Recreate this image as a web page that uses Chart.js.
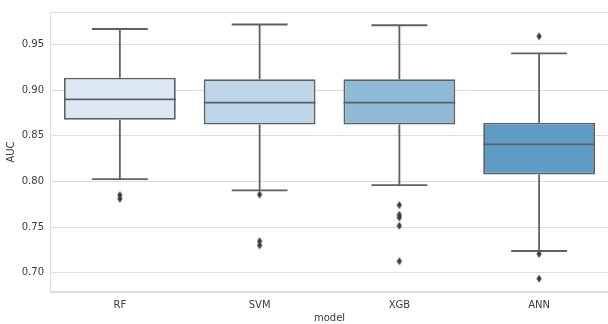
<!DOCTYPE html>
<html>
<head>
<meta charset="utf-8">
<script src="https://cdn.jsdelivr.net/npm/chart.js@4.4.1/dist/chart.umd.min.js"></script>
<style>
  html, body { margin: 0; padding: 0; background: #fff; overflow: hidden; }
  #wrap { width: 608px; height: 324px; overflow: hidden; }
</style>
</head>
<body>
<div id="wrap"><canvas id="boxChart" width="614" height="324"></canvas></div>
<script>
// Box plot data
const models = ['RF', 'SVM', 'XGB', 'ANN'];
const whiskerLow = [0.8025, 0.7903, 0.796, 0.7238];
const quartile1 = [0.8675, 0.8623, 0.8623, 0.8075];
const medians = [0.890, 0.8863, 0.8863, 0.8406];
const quartile3 = [0.9137, 0.9119, 0.9119, 0.8644];
const whiskerHigh = [0.967, 0.9719, 0.9711, 0.9403];
const outlierModel = ['RF', 'RF', 'SVM', 'SVM', 'SVM', 'XGB', 'XGB', 'XGB', 'XGB', 'XGB', 'ANN', 'ANN', 'ANN'];
const outlierValue = [0.785, 0.781, 0.7856, 0.7346, 0.730, 0.7741, 0.7635, 0.7605, 0.7514, 0.7126, 0.959, 0.7206, 0.6935];
const yTicks = [0.70, 0.75, 0.80, 0.85, 0.90, 0.95];
const boxColors = ['#dce8f4', '#bdd5e9', '#8fbad6', '#5e9bc5'];

const lineGray = '#606060';
const textColor = '#3a3a3a';
const gridColor = '#dddddd';

// thin diamond marker like matplotlib's 'd'
function makeDiamond() {
  const c = document.createElement('canvas');
  c.width = 6; c.height = 9;
  const ctx = c.getContext('2d');
  ctx.fillStyle = '#3d3d3d';
  ctx.beginPath();
  ctx.moveTo(3, 0.5);
  ctx.lineTo(5.6, 4.5);
  ctx.lineTo(3, 8.5);
  ctx.lineTo(0.4, 4.5);
  ctx.closePath();
  ctx.fill();
  return c;
}

// whiskers, caps and medians drawn right after the boxes
const boxExtras = {
  id: 'boxExtras',
  afterDatasetDraw(chart, args) {
    if (args.index !== 0) return;
    const ctx = chart.ctx;
    const x = chart.scales.x, y = chart.scales.y;
    const bars = args.meta.data;
    ctx.save();
    ctx.strokeStyle = lineGray;
    ctx.lineWidth = 1.8;
    models.forEach((m, i) => {
      const cx = x.getPixelForValue(i);
      const half = bars[i].width / 2;
      const cap = half / 2;
      ctx.beginPath();
      // whiskers
      ctx.moveTo(cx, y.getPixelForValue(quartile3[i]));
      ctx.lineTo(cx, y.getPixelForValue(whiskerHigh[i]));
      ctx.moveTo(cx, y.getPixelForValue(quartile1[i]));
      ctx.lineTo(cx, y.getPixelForValue(whiskerLow[i]));
      // caps
      ctx.moveTo(cx - cap, y.getPixelForValue(whiskerHigh[i]));
      ctx.lineTo(cx + cap, y.getPixelForValue(whiskerHigh[i]));
      ctx.moveTo(cx - cap, y.getPixelForValue(whiskerLow[i]));
      ctx.lineTo(cx + cap, y.getPixelForValue(whiskerLow[i]));
      // median
      ctx.moveTo(cx - half, y.getPixelForValue(medians[i]));
      ctx.lineTo(cx + half, y.getPixelForValue(medians[i]));
      ctx.stroke();
    });
    ctx.restore();
  },
  // frame around the plot (top spine included)
  beforeDatasetsDraw(chart) {
    const a = chart.chartArea;
    const ctx = chart.ctx;
    ctx.save();
    ctx.strokeStyle = gridColor;
    ctx.lineWidth = 1;
    ctx.strokeRect(a.left + 0.5, a.top + 0.5, a.right - a.left - 1, a.bottom - a.top - 1);
    ctx.restore();
  }
};

new Chart(document.getElementById('boxChart'), {
  type: 'bar',
  data: {
    labels: models,
    datasets: [
      {
        label: 'box',
        data: models.map((m, i) => [quartile1[i], quartile3[i]]),
        backgroundColor: boxColors,
        borderColor: lineGray,
        borderWidth: 1.8,
        borderSkipped: false,
        barPercentage: 0.8,
        categoryPercentage: 1.0
      },
      {
        type: 'line',
        label: 'outliers',
        data: outlierModel.map((m, i) => ({ x: m, y: outlierValue[i] })),
        showLine: false,
        pointStyle: makeDiamond(),
        pointRadius: 4
      }
    ]
  },
  options: {
    responsive: false,
    animation: false,
    layout: { padding: { top: 7, right: 2, left: 0, bottom: 0 } },
    plugins: {
      legend: { display: false },
      tooltip: { enabled: false }
    },
    scales: {
      x: {
        grid: { display: false, drawTicks: false },
        border: { display: true, color: gridColor },
        ticks: { color: textColor, padding: 7, font: { family: 'DejaVu Sans', size: 10 } },
        title: { display: true, text: 'model', color: textColor, padding: { top: 0, bottom: 0 }, font: { family: 'DejaVu Sans', size: 10 } },
        afterFit(scale) { scale.height = 32; }
      },
      y: {
        min: 0.6789,
        max: 0.9856,
        grid: { color: gridColor, drawTicks: false },
        border: { display: true, color: gridColor },
        ticks: {
          color: textColor,
          padding: 6,
          font: { family: 'DejaVu Sans', size: 10 },
          callback: v => v.toFixed(2)
        },
        afterBuildTicks(scale) { scale.ticks = yTicks.map(v => ({ value: v })); },
        title: { display: true, text: 'AUC', color: textColor, padding: { top: 5, bottom: 0 }, font: { family: 'DejaVu Sans', size: 10 } },
        afterFit(scale) { scale.width = 50; }
      }
    }
  },
  plugins: [boxExtras]
});
</script>
</body>
</html>
